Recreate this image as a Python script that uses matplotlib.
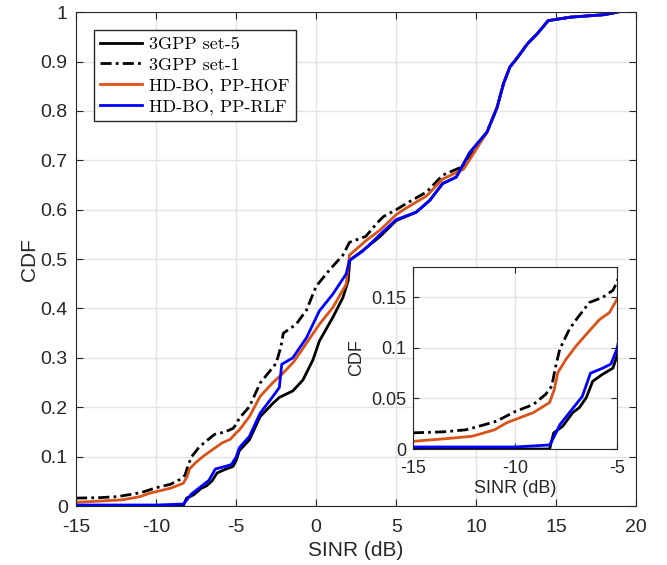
import numpy as np
import matplotlib.pyplot as plt

# CDF of SINR
# shared upper tail (all four curves overlap above ~10 dB)
tail_x = [10.67, 11.3, 11.7, 12.1, 12.5, 13.2, 13.8, 14.5, 15.9, 18.0, 18.8]
tail_y = [0.757, 0.807, 0.855, 0.889, 0.905, 0.936, 0.956, 0.983, 0.990, 0.995, 1.0]

set5_x = [-15, -8.3, -8.1, -7.66, -7.17, -6.84, -6.5, -6.19, -5.7, -5.2, -5.0, -4.8, -4.17,
          -3.5, -2.7, -2.3, -1.46, -0.83, -0.2, 0.2, 1.04, 1.67, 2.0, 2.1, 2.9, 4.0, 5.0,
          6.25, 7.1, 7.9, 8.75, 9.6]
set5_y = [0, 0, 0.016, 0.0225, 0.036, 0.041, 0.051, 0.067, 0.074, 0.080, 0.092, 0.112, 0.134,
          0.181, 0.208, 0.220, 0.233, 0.255, 0.296, 0.334, 0.382, 0.422, 0.456, 0.498, 0.517,
          0.546, 0.578, 0.595, 0.619, 0.653, 0.666, 0.716]

set1_x = [-15, -13.5, -12.4, -11.5, -10.9, -10, -9.1, -8.5, -8.2, -8.0, -7.8, -7.33, -7.0,
          -6.35, -5.7, -5.2, -5.0, -4.8, -4.17, -3.5, -2.5, -2.2, -2.05, -1.25, -0.6, 0, 0.83,
          1.67, 2.08, 3.1, 3.8, 4.2, 5.0, 5.6, 6.9, 7.9, 9.2, 9.8]
set1_y = [0.016, 0.017, 0.019, 0.024, 0.0275, 0.037, 0.044, 0.054, 0.062, 0.082, 0.099, 0.1185,
          0.128, 0.145, 0.150, 0.157, 0.165, 0.178, 0.201, 0.249, 0.289, 0.323, 0.350, 0.368,
          0.397, 0.445, 0.478, 0.508, 0.534, 0.546, 0.573, 0.586, 0.600, 0.612, 0.636, 0.670,
          0.688, 0.717]

hof_x = [-15, -13.5, -12.1, -11, -10.4, -9.1, -8.3, -8.07, -7.9, -7.5, -7.0, -6.5, -5.86,
         -5.37, -5.0, -4.8, -4.17, -3.5, -2.7, -2.1, -1.4, -0.6, 0.2, 1.04, 1.875, 2.08,
         3.1, 4.0, 5.0, 5.6, 6.9, 7.9, 9.2, 9.8]
hof_y = [0.0076, 0.010, 0.0126, 0.019, 0.026, 0.036, 0.046, 0.059, 0.0755, 0.0887, 0.102,
         0.1136, 0.128, 0.135, 0.148, 0.154, 0.181, 0.222, 0.250, 0.268, 0.292, 0.330, 0.368,
         0.402, 0.449, 0.508, 0.537, 0.559, 0.590, 0.603, 0.628, 0.662, 0.682, 0.712]

rlf_x = [-15, -10, -8.3, -8.07, -7.8, -7.33, -6.7, -6.3, -5.7, -5.3, -5.0, -4.8, -4.17,
         -3.5, -2.7, -2.3, -2.15, -1.46, -0.6, 0.2, 1.04, 1.875, 2.08, 2.9, 4.0, 5.0, 6.25,
         7.1, 7.9, 8.75, 9.6]
rlf_y = [0.002, 0.002, 0.004, 0.0126, 0.024, 0.036, 0.052, 0.075, 0.080, 0.084, 0.099, 0.118,
         0.141, 0.188, 0.222, 0.240, 0.287, 0.300, 0.341, 0.395, 0.429, 0.470, 0.497, 0.516,
         0.550, 0.580, 0.595, 0.619, 0.653, 0.666, 0.716]

series = [
    ("3GPP set-5", set5_x, set5_y, "black", "-"),
    ("3GPP set-1", set1_x, set1_y, "black", (0, (4, 1.5, 1, 1.5))),
    ("HD-BO, PP-HOF", hof_x, hof_y, "#D95319", "-"),
    ("HD-BO, PP-RLF", rlf_x, rlf_y, "#0000FF", "-"),
]

plt.rcParams["font.family"] = ["Liberation Sans", "DejaVu Sans"]
plt.rcParams["axes.unicode_minus"] = False
axcol = "#262626"

fig = plt.figure(figsize=(6.67, 5.65), dpi=100)
ax = fig.add_axes([0.114, 0.1044, 0.840, 0.874])

for name, xs, ys, c, ls in series:
    ax.plot(xs + tail_x, ys + tail_y, color=c, linestyle=ls, linewidth=2, label=name)

ax.set_xlim(-15, 20)
ax.set_ylim(0, 1)
ax.set_xticks(np.arange(-15, 21, 5))
ax.set_yticks(np.arange(0, 1.01, 0.1))
ax.set_yticklabels(["0", "0.1", "0.2", "0.3", "0.4", "0.5", "0.6", "0.7", "0.8", "0.9", "1"])
ax.grid(True, color="#e3e3e3", linewidth=1)
ax.set_axisbelow(True)
ax.tick_params(direction="in", top=True, right=True, labelsize=14, colors=axcol, length=5)
ax.tick_params(axis="x", pad=9)
ax.tick_params(axis="y", pad=6)
for s in ax.spines.values():
    s.set_color(axcol)
ax.set_xlabel("SINR (dB)", fontsize=15, color=axcol, labelpad=4)
ax.set_ylabel("CDF", fontsize=15, color=axcol, labelpad=1)

leg = ax.legend(loc="upper left", bbox_to_anchor=(0.032, 0.964), borderaxespad=0,
                prop={"family": "cmr10", "size": 13}, fancybox=False, framealpha=1,
                edgecolor=axcol, handlelength=2.3, labelspacing=0.28, borderpad=0.35,
                handletextpad=0.4)
leg.get_frame().set_linewidth(1)

# zoomed inset
ins = fig.add_axes([0.619, 0.2053, 0.306, 0.322])
for name, xs, ys, c, ls in series:
    ins.plot(xs, ys, color=c, linestyle=ls, linewidth=2)
ins.set_xlim(-15, -5)
ins.set_ylim(0, 0.18)
ins.set_xticks([-15, -10, -5])
ins.set_yticks([0, 0.05, 0.1, 0.15])
ins.set_yticklabels(["0", "0.05", "0.1", "0.15"])
ins.grid(True, color="#e3e3e3", linewidth=1)
ins.set_axisbelow(True)
ins.tick_params(direction="in", top=True, right=True, labelsize=13, colors=axcol, length=4)
ins.tick_params(axis="x", pad=8)
ins.tick_params(axis="y", pad=5)
for s in ins.spines.values():
    s.set_color(axcol)
ins.set_xlabel("SINR (dB)", fontsize=13, color=axcol, labelpad=2)
ins.set_ylabel("CDF", fontsize=13, color=axcol, labelpad=4)

fig.savefig("out.png", dpi=100)
